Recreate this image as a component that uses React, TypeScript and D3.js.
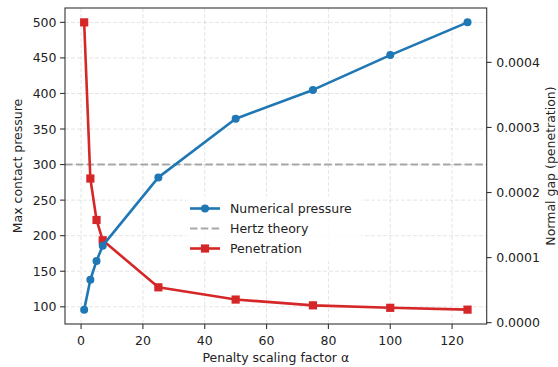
import React from "react";
import * as d3 from "d3";

// Penalty study: max contact pressure and penetration vs. penalty scaling factor
const alphas = [1, 3, 5, 7, 25, 50, 75, 100, 125];
const pressure = [96, 138, 164.5, 186, 282, 364.5, 405, 454, 500];
const penetration = [0.0004615, 0.0002215, 0.0001578, 0.0001266, 0.0000543, 0.0000355, 0.0000266, 0.0000228, 0.00002];
const hertzPressure = 300;

const xTicks = [0, 20, 40, 60, 80, 100, 120];
const leftTicks = [100, 150, 200, 250, 300, 350, 400, 450, 500];
const rightTicks = [0, 0.0001, 0.0002, 0.0003, 0.0004];

const legendItems = ["Numerical pressure", "Hertz theory", "Penetration"];

const W = 558;
const H = 367;
const M = { left: 65, right: 486.7, top: 8, bottom: 324 };

const BLUE = "#1f77b4";
const RED = "#d62728";
const FONT = "'DejaVu Sans', sans-serif";
const FS = 12.5;

function pad(ext: [number, number]): [number, number] {
  const r = ext[1] - ext[0];
  return [ext[0] - 0.05 * r, ext[1] + 0.05 * r];
}

export default function App() {
  const x = d3.scaleLinear().domain(pad(d3.extent(alphas) as [number, number])).range([M.left, M.right]);
  const yL = d3.scaleLinear().domain(pad(d3.extent(pressure) as [number, number])).range([M.bottom, M.top]);
  const yR = d3.scaleLinear().domain(pad(d3.extent(penetration) as [number, number])).range([M.bottom, M.top]);

  const pLine = d3.line<number>().x((_, i) => x(alphas[i])).y((d) => yL(d))(pressure) || "";
  const gLine = d3.line<number>().x((_, i) => x(alphas[i])).y((d) => yR(d))(penetration) || "";

  const fmtR = d3.format(".4f");
  const sq = 8.2;
  const legX = 190;
  const legY0 = 208.5;
  const legDy = 20;

  return (
    <svg width={W} height={H} style={{ position: "absolute", left: 0, top: 0, background: "#fff" }} fontFamily={FONT}>
      <rect width={W} height={H} fill="#fff" />
      {/* grid */}
      <g stroke="#000" strokeOpacity={0.12} strokeWidth={0.9} strokeDasharray="4,2">
        {xTicks.map((t) => (
          <line key={"gx" + t} x1={x(t)} x2={x(t)} y1={M.top} y2={M.bottom} />
        ))}
        {leftTicks.map((t) => (
          <line key={"gy" + t} x1={M.left} x2={M.right} y1={yL(t)} y2={yL(t)} />
        ))}
      </g>
      {/* Hertz reference */}
      <line x1={M.left} x2={M.right} y1={yL(hertzPressure)} y2={yL(hertzPressure)} stroke="#999" strokeOpacity={0.85} strokeWidth={2} strokeDasharray="7.5,3.3" />
      {/* penetration series */}
      <path d={gLine} fill="none" stroke={RED} strokeWidth={2.6} strokeLinejoin="round" />
      {penetration.map((d, i) => (
        <rect key={"s" + i} x={x(alphas[i]) - sq / 2} y={yR(d) - sq / 2} width={sq} height={sq} fill={RED} />
      ))}
      {/* pressure series */}
      <path d={pLine} fill="none" stroke={BLUE} strokeWidth={2.6} strokeLinejoin="round" />
      {pressure.map((d, i) => (
        <circle key={"c" + i} cx={x(alphas[i])} cy={yL(d)} r={4} fill={BLUE} />
      ))}
      {/* legend */}
      <rect x={186} y={196} width={176} height={65} fill="#fff" fillOpacity={0.8} rx={3} />
      {legendItems.map((name, i) => {
        const cy = legY0 + i * legDy;
        return (
          <g key={name}>
            {i === 0 && (
              <>
                <line x1={legX} x2={legX + 30} y1={cy} y2={cy} stroke={BLUE} strokeWidth={2.6} />
                <circle cx={legX + 15} cy={cy} r={4} fill={BLUE} />
              </>
            )}
            {i === 1 && (
              <line x1={legX} x2={legX + 30} y1={cy} y2={cy} stroke="#999" strokeOpacity={0.85} strokeWidth={2} strokeDasharray="7.5,3.3" />
            )}
            {i === 2 && (
              <>
                <line x1={legX} x2={legX + 30} y1={cy} y2={cy} stroke={RED} strokeWidth={2.6} />
                <rect x={legX + 15 - sq / 2} y={cy - sq / 2} width={sq} height={sq} fill={RED} />
              </>
            )}
            <text x={legX + 40} y={cy} dy="0.36em" fontSize={FS} fill="#222">{name}</text>
          </g>
        );
      })}
      {/* frame */}
      <rect x={M.left} y={M.top} width={M.right - M.left} height={M.bottom - M.top} fill="none" stroke="#333" strokeWidth={1.1} />
      {/* x axis */}
      {xTicks.map((t) => (
        <g key={"xt" + t}>
          <line x1={x(t)} x2={x(t)} y1={M.bottom} y2={M.bottom + 4.9} stroke="#333" strokeWidth={1.1} />
          <text x={x(t)} y={M.bottom + 20.5} textAnchor="middle" fontSize={FS} fill="#222">{t}</text>
        </g>
      ))}
      <text x={(M.left + M.right) / 2} y={362} textAnchor="middle" fontSize={FS} fill="#222">Penalty scaling factor α</text>
      {/* left axis */}
      {leftTicks.map((t) => (
        <g key={"lt" + t}>
          <line x1={M.left} x2={M.left - 4.9} y1={yL(t)} y2={yL(t)} stroke="#333" strokeWidth={1.1} />
          <text x={M.left - 8.5} y={yL(t)} dy="0.36em" textAnchor="end" fontSize={FS} fill="#222">{t}</text>
        </g>
      ))}
      <text transform={`translate(21.5,${(M.top + M.bottom) / 2}) rotate(-90)`} textAnchor="middle" fontSize={FS} fill="#222">Max contact pressure</text>
      {/* right axis */}
      {rightTicks.map((t) => (
        <g key={"rt" + t}>
          <line x1={M.right} x2={M.right + 4.9} y1={yR(t)} y2={yR(t)} stroke="#333" strokeWidth={1.1} />
          <text x={M.right + 9.5} y={yR(t)} dy="0.36em" textAnchor="start" fontSize={FS} fill="#222">{fmtR(t)}</text>
        </g>
      ))}
      <text transform={`translate(555,${(M.top + M.bottom) / 2}) rotate(-90)`} textAnchor="middle" fontSize={FS} fill="#222">Normal gap (penetration)</text>
    </svg>
  );
}
